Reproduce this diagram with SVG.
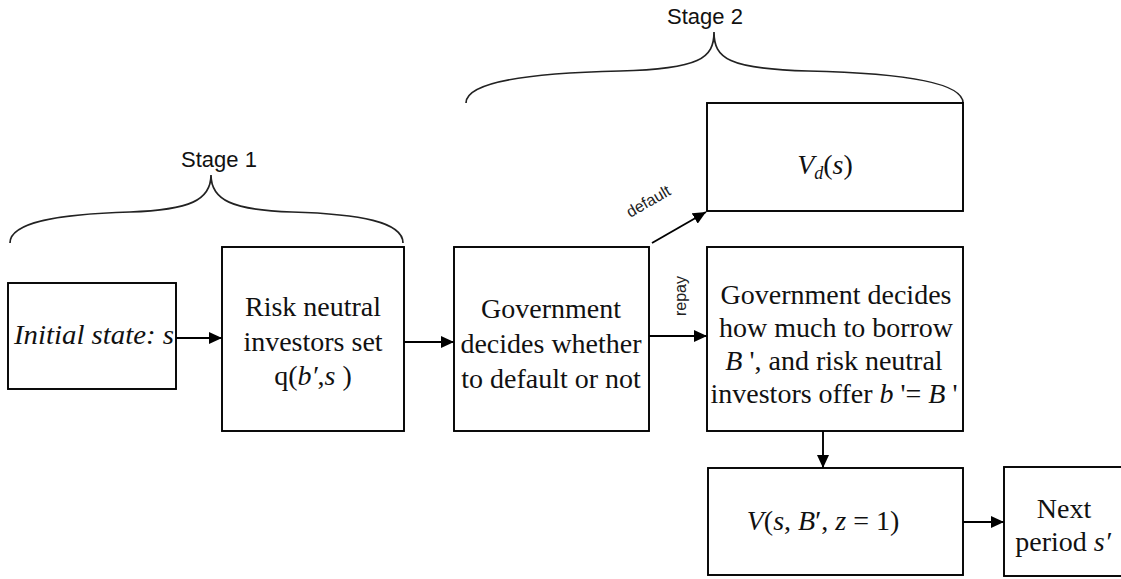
<svg xmlns="http://www.w3.org/2000/svg" width="1121" height="579" viewBox="0 0 1121 579">
<defs>
<marker id="ah" markerUnits="userSpaceOnUse" markerWidth="14" markerHeight="12" refX="13" refY="6" orient="auto">
<path d="M0,0 L13,6 L0,12 Z" fill="#000"/>
</marker>
<style>
.box{fill:#fff;stroke:#000;stroke-width:1.9}
.t{font-family:"Liberation Serif","Times New Roman",serif;font-size:28px;fill:#111;text-anchor:middle}
.i{font-style:italic}
.lbl{font-family:"Liberation Sans",Arial,sans-serif;font-size:22px;fill:#111;text-anchor:middle}
.sm{font-family:"Liberation Sans",Arial,sans-serif;font-size:16px;fill:#222;text-anchor:middle}
.c{stroke:#000;stroke-width:1.9;fill:none}
.br{stroke:#222;stroke-width:1.7;fill:none}
</style>
</defs>
<rect width="1121" height="579" fill="#fff"/>

<g id="braces">
<path class="br" d="M10,243 C10,222 60,214 130,212 C190,210 211,200 211,175 C211,200 232,210 292,212 C360,214 403,222 403,243"/>
<text class="lbl" x="219" y="167">Stage 1</text>
<path class="br" d="M466,103 C466,82 530,73 620,71 C700,69 714,58 714,32 C714,58 728,69 808,71 C898,73 963,82 963,103"/>
<text class="lbl" x="705" y="24">Stage 2</text>
</g>

<g id="connectors">
<line class="c" x1="176" y1="338" x2="222" y2="338" marker-end="url(#ah)"/>
<line class="c" x1="404" y1="342" x2="454" y2="342" marker-end="url(#ah)"/>
<line class="c" x1="649" y1="336" x2="707" y2="336" marker-end="url(#ah)"/>
<line class="c" x1="652" y1="243" x2="706" y2="212" marker-end="url(#ah)"/>
<line class="c" x1="823" y1="431" x2="823" y2="468" marker-end="url(#ah)"/>
<line class="c" x1="963" y1="522" x2="1004" y2="522" marker-end="url(#ah)"/>
<text class="sm" transform="translate(651,206) rotate(-30)">default</text>
<text class="sm" transform="translate(686,296) rotate(-90)">repay</text>
</g>

<g id="initial">
<rect class="box" x="8" y="283" width="168" height="106"/>
<text class="t i" x="14" y="344" style="text-anchor:start" textLength="160" lengthAdjust="spacingAndGlyphs">Initial state: s</text>
</g>

<g id="risk">
<rect class="box" x="222" y="247" width="182" height="184"/>
<text class="t" x="313" y="316">Risk neutral</text>
<text class="t" x="313" y="351">investors set</text>
<text class="t" x="313" y="385">q(<tspan class="i">b′</tspan>,<tspan class="i">s</tspan> )</text>
</g>

<g id="gov">
<rect class="box" x="454" y="247" width="195" height="184"/>
<text class="t" x="551" y="318">Government</text>
<text class="t" x="551" y="353">decides whether</text>
<text class="t" x="551" y="388">to default or not</text>
</g>

<g id="vd">
<rect class="box" x="707" y="103" width="256" height="108"/>
<text class="t" x="825" y="174"><tspan class="i">V</tspan><tspan class="i" font-size="18" dy="5">d</tspan><tspan dy="-5">(</tspan><tspan class="i">s</tspan>)</text>
</g>

<g id="borrow">
<rect class="box" x="707" y="247" width="256" height="184"/>
<text class="t" x="836" y="304">Government decides</text>
<text class="t" x="836" y="337">how much to borrow</text>
<text class="t" x="834" y="370"><tspan class="i">B</tspan> ', and risk neutral</text>
<text class="t" x="834" y="403">investors offer <tspan class="i">b</tspan> '= <tspan class="i">B</tspan> '</text>
</g>

<g id="value">
<rect class="box" x="708" y="468" width="255" height="107"/>
<text class="t" x="823" y="530"><tspan class="i">V</tspan>(<tspan class="i">s</tspan>, <tspan class="i">B</tspan>′, <tspan class="i">z</tspan> = 1)</text>
</g>

<g id="next">
<rect class="box" x="1004" y="467" width="125" height="109"/>
<text class="t" x="1064" y="518">Next</text>
<text class="t" x="1063" y="551">period <tspan class="i">s′</tspan></text>
</g>
</svg>
